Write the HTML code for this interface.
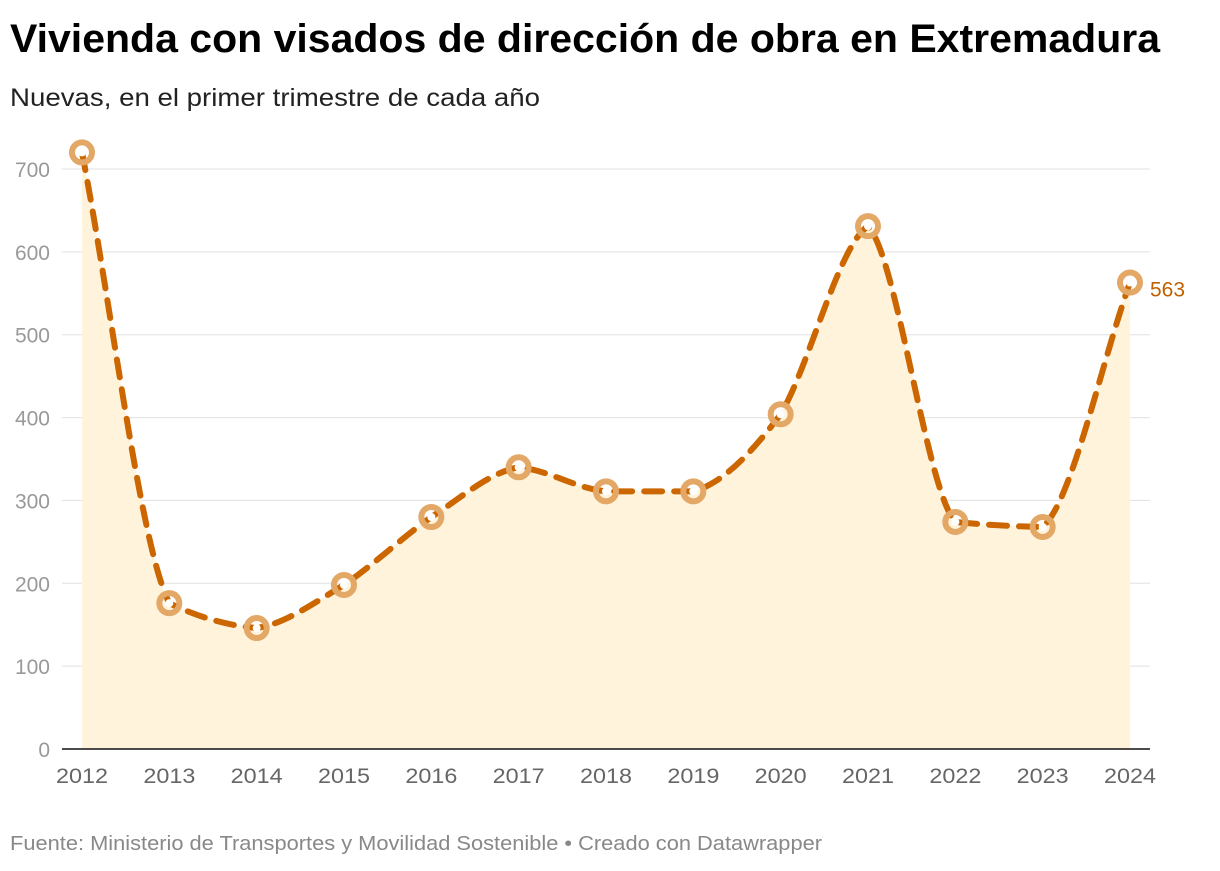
<!DOCTYPE html>
<html><head><meta charset="utf-8">
<style>
body{margin:0;background:#fff;width:1220px;height:866px;overflow:hidden;font-family:"Liberation Sans",sans-serif;}
svg text{font-family:"Liberation Sans",sans-serif;}
</style></head>
<body>
<svg id="chart" width="1220" height="866" viewBox="0 0 1220 866">
<text x="10" y="52" font-size="40" font-weight="bold" fill="#000" textLength="1150" lengthAdjust="spacingAndGlyphs">Vivienda con visados de dirección de obra en Extremadura</text>
<text x="10" y="106" font-size="25" fill="#222" textLength="530" lengthAdjust="spacingAndGlyphs">Nuevas, en el primer trimestre de cada año</text>
<text x="10" y="850" font-size="20" fill="#888" textLength="812" lengthAdjust="spacingAndGlyphs">Fuente: Ministerio de Transportes y Movilidad Sostenible • Creado con Datawrapper</text>
<g id="grid"></g><g id="area"></g><g id="marks"></g>
</svg>
<script>
const years=["2012","2013","2014","2015","2016","2017","2018","2019","2020","2021","2022","2023","2024"];
const values=[720,176,146,198,280,340,311,311,404,631,274,268,563];
const yTicks=[0,100,200,300,400,500,600,700];
const NS="http://www.w3.org/2000/svg";
const x0=82,x1=1130,yB=749,yT=169,yMax=700;
const xs=i=>x0+(x1-x0)*i/(years.length-1);
const ys=v=>yB-(yB-yT)*v/yMax;
function mk(t,a,p){const e=document.createElementNS(NS,t);for(const k in a)e.setAttribute(k,a[k]);p.appendChild(e);return e;}
const grid=document.getElementById('grid'),area=document.getElementById('area'),marks=document.getElementById('marks');
yTicks.forEach(v=>{
 if(v>0){const l=mk('line',{x1:62,x2:1150,y1:ys(v),y2:ys(v),stroke:'#e0e0e0','stroke-width':1},grid);
 
 }
 const t=mk('text',{x:50,y:ys(v)+8,'text-anchor':'end','font-size':21,fill:'#999'},grid);t.textContent=v;
 
 
});
years.forEach((y,i)=>{
 const t=mk('text',{x:xs(i),y:783,'text-anchor':'middle','font-size':21,fill:'#666',textLength:52,lengthAdjust:'spacingAndGlyphs'},grid);t.textContent=y;
 
 
});
const P=values.map((v,i)=>[xs(i),ys(v)]);
function mono(P){
 const n=P.length,d=[],m=[];
 for(let i=0;i<n-1;i++)d.push((P[i+1][1]-P[i][1])/(P[i+1][0]-P[i][0]));
 m[0]=d[0];m[n-1]=d[n-2];
 for(let i=1;i<n-1;i++){const s0=d[i-1],s1=d[i],p=(s0+s1)/2;
  m[i]=(Math.sign(s0)+Math.sign(s1))*Math.min(Math.abs(s0),Math.abs(s1),0.5*Math.abs(p));}
 let s='M'+P[0][0]+','+P[0][1];
 const k=0.7;
 for(let i=0;i<n-1;i++){const h=(P[i+1][0]-P[i][0])/3;
  const t0=d[i]+(m[i]-d[i])*k,t1=d[i]+(m[i+1]-d[i])*k;
  s+=' C'+(P[i][0]+h)+','+(P[i][1]+t0*h)+' '+(P[i+1][0]-h)+','+(P[i+1][1]-t1*h)+' '+P[i+1][0]+','+P[i+1][1];}
 return s;
}
const curve=mono(P);
const a=mk('path',{d:curve+' L'+xs(values.length-1)+','+yB+' L'+xs(0)+','+yB+' Z',fill:'#fff3dc'},area);


const base=mk('line',{x1:62,x2:1150,y1:yB,y2:yB,stroke:'#111','stroke-width':1.5},area);


const ln=mk('path',{d:curve,fill:'none',stroke:'#cc6600','stroke-width':6,'stroke-dasharray':'18 12','stroke-linecap':'round'},marks);


values.forEach((v,i)=>{
 const c=mk('circle',{cx:xs(i),cy:ys(v),r:10,fill:'none',stroke:'#e3a766','stroke-width':6},marks);
 
 
 mk('circle',{cx:xs(i),cy:ys(v),r:4,fill:'#fff'},marks);
});
const lbl=mk('text',{x:xs(values.length-1)+20,y:ys(values[values.length-1])+14,'font-size':21,fill:'#c06000'},marks);
lbl.textContent=values[values.length-1];


</script>
</body></html>
